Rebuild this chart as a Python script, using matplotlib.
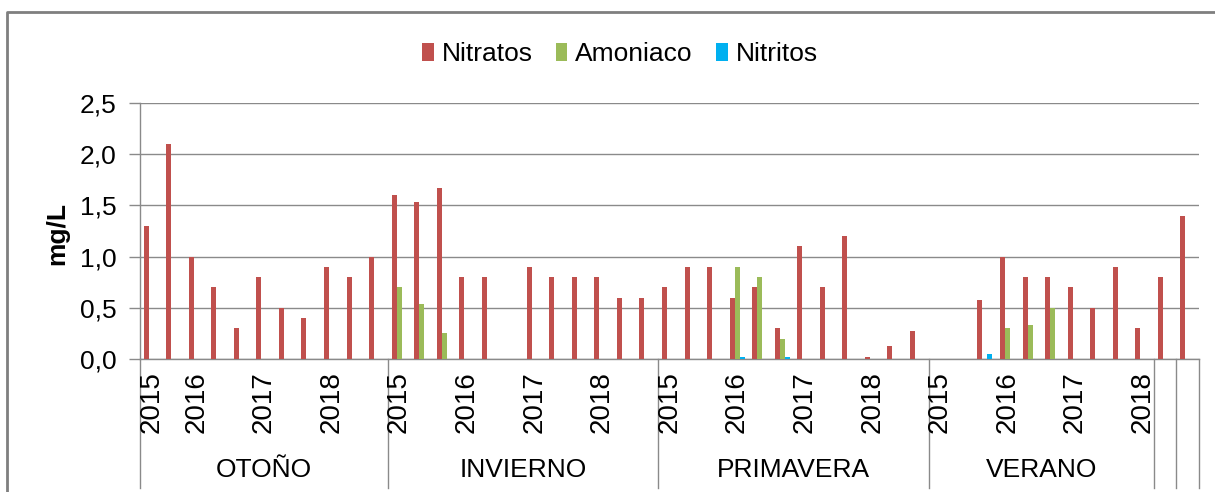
import numpy as np
import matplotlib
matplotlib.use("Agg")
import matplotlib.pyplot as plt
from matplotlib.patches import Patch
from matplotlib.lines import Line2D
import matplotlib.transforms as mtransforms

plt.rcParams['font.family'] = ['Liberation Sans', 'DejaVu Sans']

# ---------------- data ----------------
seasons = ['OTOÑO', 'INVIERNO', 'PRIMAVERA', 'VERANO', '', '']
season_sizes = [11, 12, 12, 10, 1, 1]

year_labels = (
    ['2015', '', '2016', '', '', '2017', '', '', '2018', '', ''] +
    ['2015', '', '', '2016', '', '', '2017', '', '', '2018', '', ''] +
    ['2015', '', '', '2016', '', '', '2017', '', '', '2018', '', ''] +
    ['2015', '', '', '2016', '', '', '2017', '', '', '2018'] +
    [''] + ['']
)

nitratos = (
    [1.30, 2.10, 1.00, 0.70, 0.30, 0.80, 0.50, 0.40, 0.90, 0.80, 1.00] +
    [1.60, 1.53, 1.67, 0.80, 0.80, 0.00, 0.90, 0.80, 0.80, 0.80, 0.60, 0.60] +
    [0.70, 0.90, 0.90, 0.60, 0.70, 0.30, 1.10, 0.70, 1.20, 0.02, 0.13, 0.27] +
    [0.00, 0.00, 0.58, 1.00, 0.80, 0.80, 0.70, 0.50, 0.90, 0.30] +
    [0.80] + [1.40]
)
amoniaco = (
    [0] * 11 +
    [0.70, 0.54, 0.25, 0, 0, 0, 0, 0, 0, 0, 0, 0] +
    [0, 0, 0, 0.90, 0.80, 0.20, 0, 0, 0, 0, 0, 0] +
    [0, 0, 0, 0.30, 0.33, 0.50, 0, 0, 0, 0] +
    [0] + [0]
)
nitritos = (
    [0] * 11 +
    [0] * 12 +
    [0, 0, 0, 0.02, 0, 0.02, 0, 0, 0, 0, 0, 0] +
    [0, 0, 0.045, 0, 0, 0, 0, 0, 0, 0] +
    [0] + [0]
)

series_names = ['Nitratos', 'Amoniaco', 'Nitritos']
colors = ['#C0504D', '#9BBB59', '#00B0F0']
y_ticks = [0.0, 0.5, 1.0, 1.5, 2.0, 2.5]

# ---------------- figure ----------------
W, H = 1215, 492
fig = plt.figure(figsize=(W / 100, H / 100), dpi=100)
fig.patch.set_facecolor('white')

left, right, top, bottom = 140, 1199, 103, 359
ax = fig.add_axes([left / W, 1 - bottom / H, (right - left) / W, (bottom - top) / H])

n = len(nitratos)
x = np.arange(n)
bw = 0.222
grid_col = '#8A8A8A'
FS = 19

for k, (vals, col) in enumerate(zip([nitratos, amoniaco, nitritos], colors)):
    ax.bar(x + (k - 1) * bw, vals, width=bw, color=col, zorder=3, linewidth=0)

ax.set_xlim(-0.5, n - 0.5)
ax.set_ylim(0, 2.5)
ax.set_yticks(y_ticks)
ax.set_yticklabels([f'{v:.1f}'.replace('.', ',') for v in y_ticks], fontsize=FS)
ax.set_xticks([])
ax.yaxis.grid(True, color=grid_col, linewidth=1.0, zorder=0)
ax.set_axisbelow(True)
ax.tick_params(axis='y', direction='out', length=8, width=1.0, color=grid_col, pad=9)

for s in ['top', 'right']:
    ax.spines[s].set_visible(False)
for s in ['left', 'bottom']:
    ax.spines[s].set_color(grid_col)
    ax.spines[s].set_linewidth(1.0)

ax.set_ylabel('mg/L', fontsize=FS, fontweight='bold')
ax.yaxis.set_label_coords(-(left - 69) / (right - left), 0.49)

# category axis: year labels
trans = mtransforms.blended_transform_factory(ax.transData, ax.transAxes)
ph = bottom - top
for i, lab in enumerate(year_labels):
    if lab:
        ax.text(i, -(371 - bottom) / ph, lab, rotation=90, ha='center', va='top',
                fontsize=20, transform=trans)

# season labels and dividers
bounds = np.concatenate([[0], np.cumsum(season_sizes)]) - 0.5
div_bottom = -(488 - bottom) / ph
for b in bounds:
    ax.add_line(Line2D([b, b], [0, div_bottom], transform=trans, color=grid_col,
                       linewidth=1.0, clip_on=False))
for s, a, b in zip(seasons, bounds[:-1], bounds[1:]):
    if s:
        ax.text((a + b) / 2, -(470 - bottom) / ph, s, ha='center', va='center',
                fontsize=FS, transform=trans)

# legend
handles = [Patch(facecolor=c, edgecolor='none') for c in colors]
fig.legend(handles, series_names, loc='center', bbox_to_anchor=(620 / W, 1 - 54 / H),
           ncol=3, frameon=False, fontsize=FS, handlelength=0.42, handleheight=0.68,
           handletextpad=0.3, columnspacing=0.9, borderpad=0)

# outer chart border (cropped)
fig.add_artist(Line2D([7 / W, 7 / W, 1.0], [0.0, 1 - 12 / H, 1 - 12 / H],
                      transform=fig.transFigure, color='#7F7F7F', linewidth=2.0))

fig.savefig('out.png', dpi=100, facecolor='white')
